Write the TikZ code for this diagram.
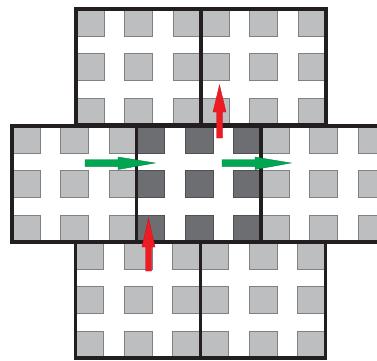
\documentclass[tikz,border=0pt]{standalone}
\definecolor{lightsq}{HTML}{BCBEC0}
\definecolor{lightsqb}{HTML}{7F8184}
\definecolor{darksq}{HTML}{6D6E71}
\definecolor{darksqb}{HTML}{4F5052}
\definecolor{tileb}{HTML}{231F20}
\definecolor{arrgreen}{HTML}{00A651}
\definecolor{arrred}{HTML}{ED1C24}
\tikzset{
  lightcell/.style={fill=lightsq,draw=lightsqb,line width=0.6pt},
  darkcell/.style={fill=darksq,draw=darksqb,line width=0.6pt},
  tileline/.style={draw=tileb,line width=2.3pt},
  greenarrow/.style={fill=arrgreen,draw=arrgreen!80!black,line width=0.3pt},
  redarrow/.style={fill=arrred,draw=arrred!85!black,line width=0.3pt}
}
\newcommand\mytile[3]{%
  \begin{scope}[shift={(#1,#2)}]
    \fill[white] (0,0) rectangle (125,116);
    \foreach \cx in {0,48.5,97}{\foreach \cy in {0,44.5,89}{
      \draw[#3] (\cx,\cy) rectangle ++(28,27);}}
    \draw[tileline] (0,0) rectangle (125,116);
  \end{scope}}
\begin{document}
\begin{tikzpicture}[x=0.75pt,y=-0.75pt]
  \useasboundingbox (0,0) rectangle (377,360);
  \clip (0,0) rectangle (377,360);
  % top row
  \mytile{76}{9}{lightcell}
  \mytile{201}{9}{lightcell}
  % bottom row
  \mytile{75.5}{242}{lightcell}
  \mytile{200.5}{242}{lightcell}
  % middle row
  \mytile{12}{126}{lightcell}
  \mytile{261}{126}{lightcell}
  \mytile{136.5}{126}{darkcell}
  \draw[tileline] (136.5,126) rectangle (261,242);
  % green arrows
  \draw[greenarrow] (85,159.7) -- (118,159.7) -- (118,157) -- (155,163) -- (118,169.5) -- (118,166.3) -- (85,166.3) -- cycle;
  \draw[greenarrow] (222,159.7) -- (255,159.7) -- (255,157) -- (291,163) -- (255,169.5) -- (255,166.3) -- (222,166.3) -- cycle;
  % red arrows
  \draw[redarrow] (216.5,138) -- (216.5,112) -- (213,112) -- (219.5,85) -- (226,112) -- (222.5,112) -- (222.5,138) -- cycle;
  \draw[redarrow] (145.5,271) -- (145.5,247) -- (142,247) -- (148.5,218) -- (155,247) -- (151.5,247) -- (151.5,271) -- cycle;
\end{tikzpicture}
\end{document}
